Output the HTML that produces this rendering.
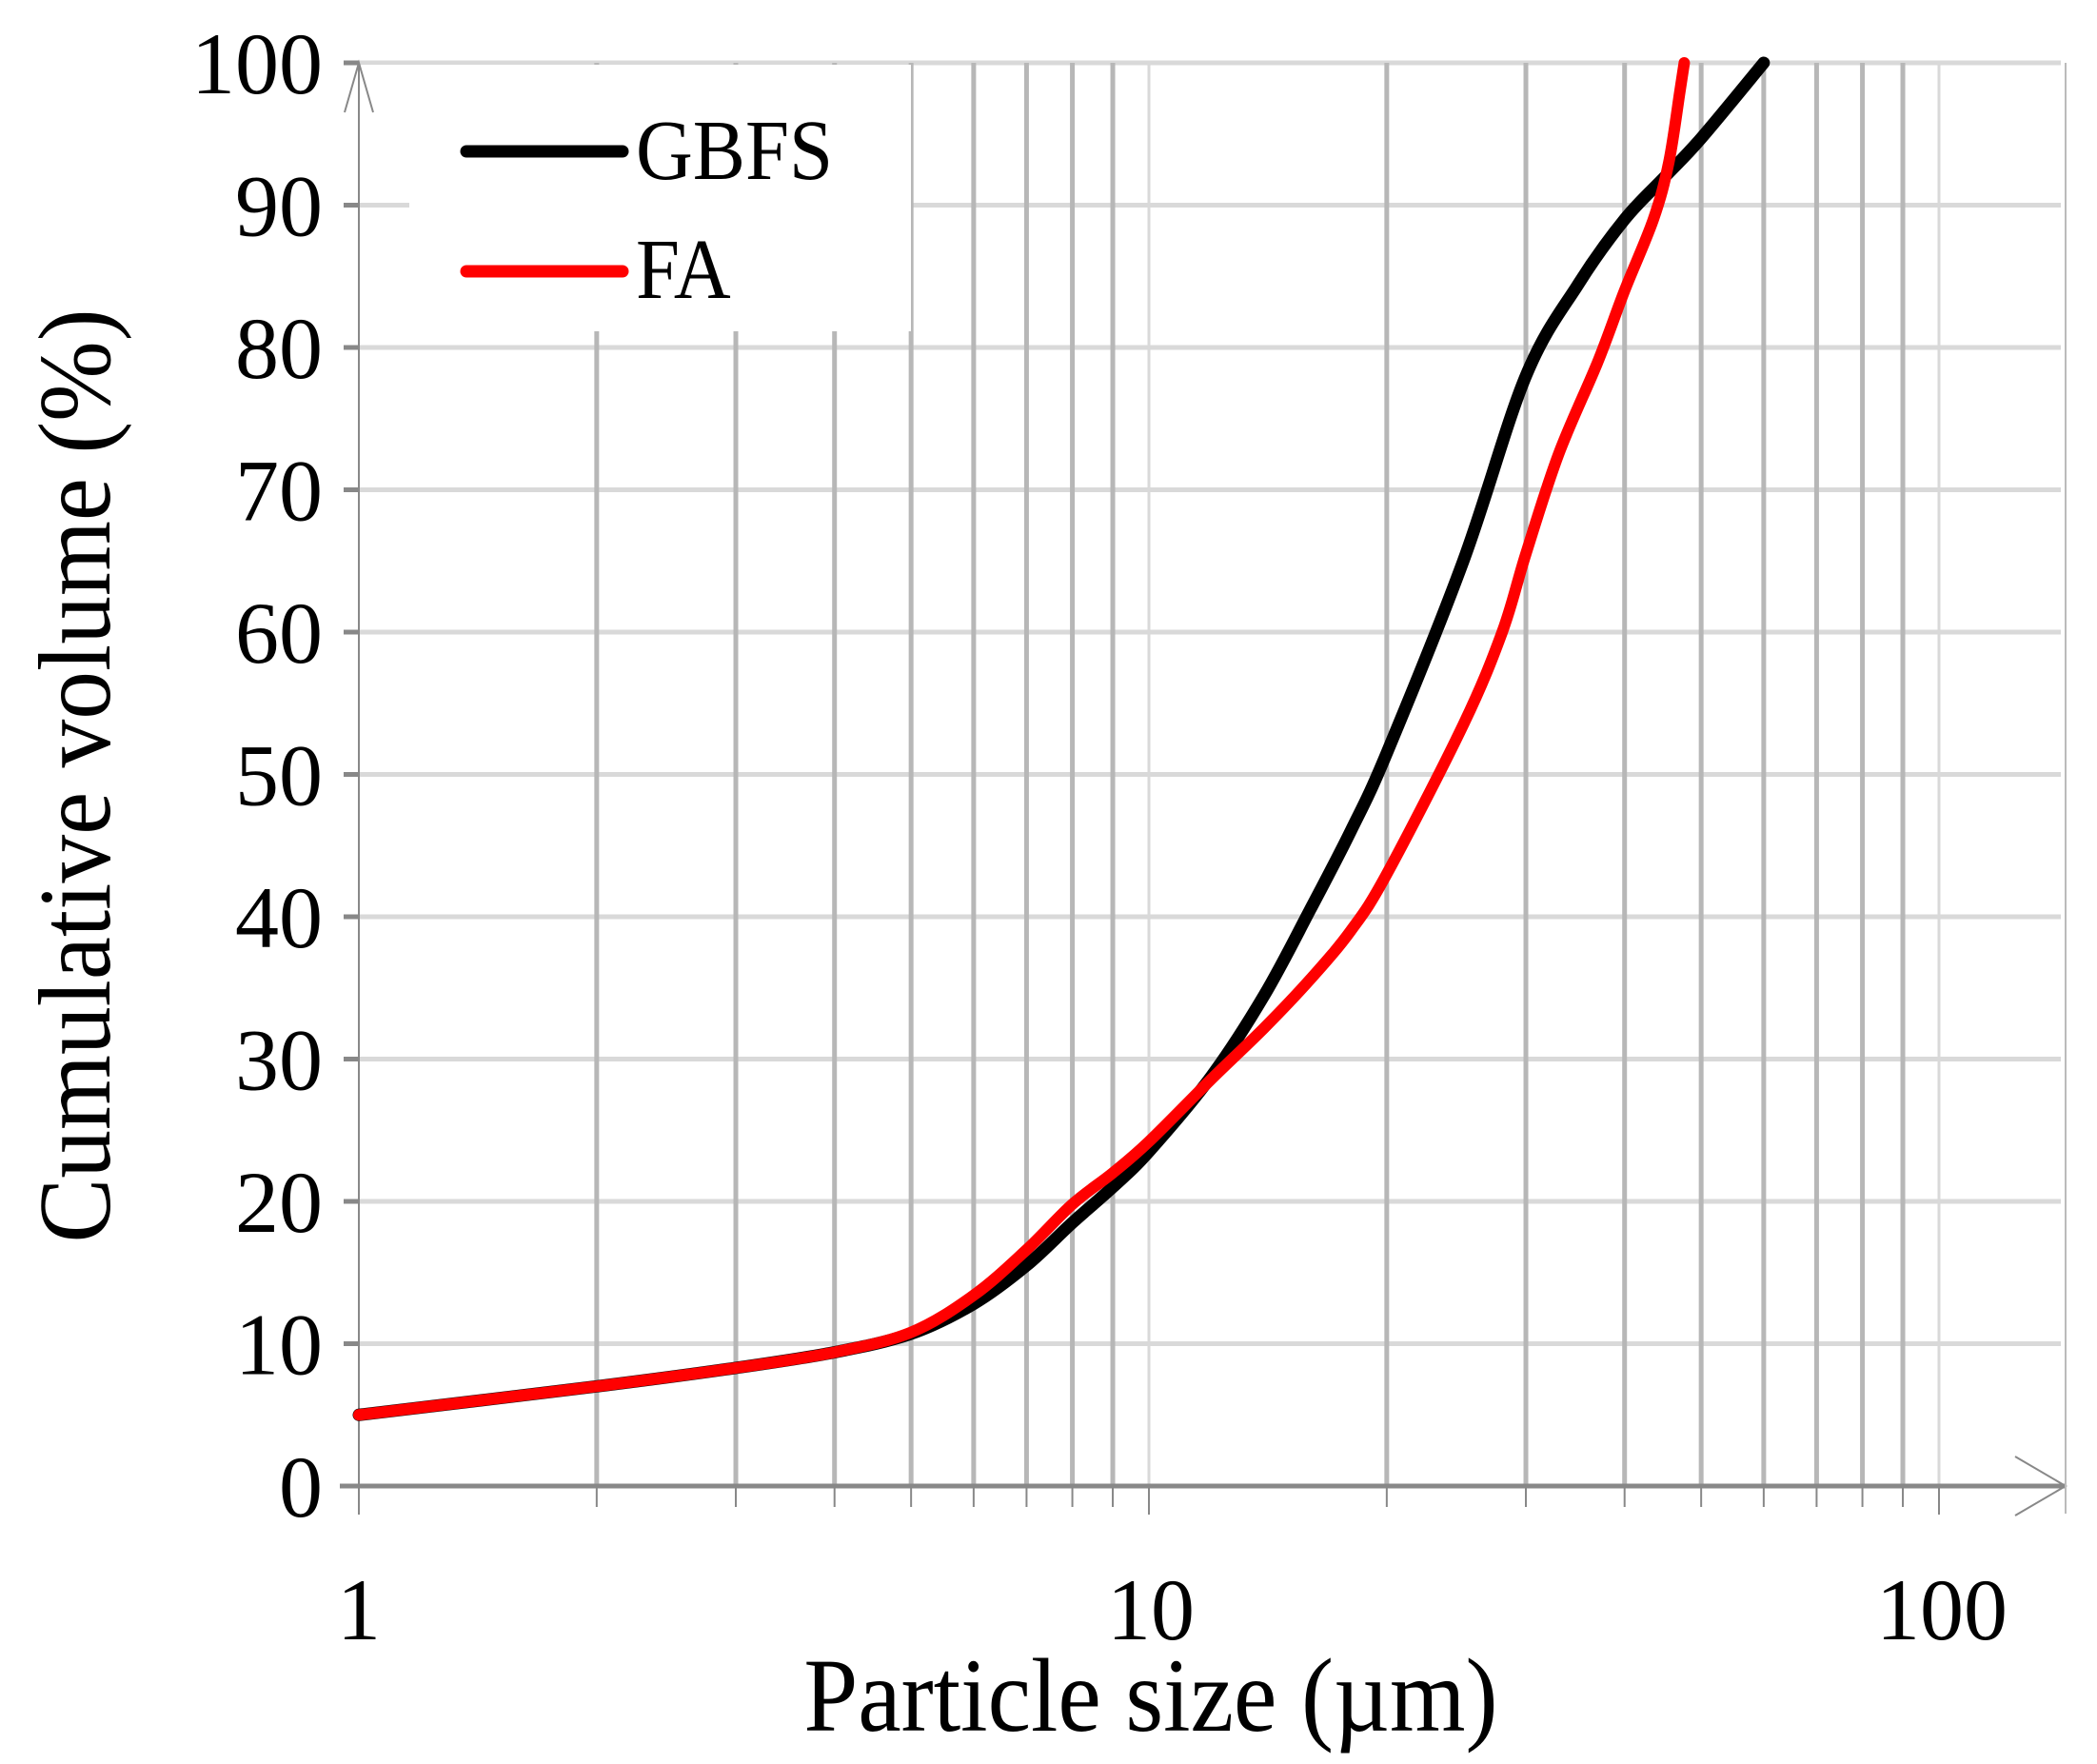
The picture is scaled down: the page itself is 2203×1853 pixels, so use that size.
<!DOCTYPE html>
<html><head><meta charset="utf-8"><style>
html,body{margin:0;padding:0;background:#fff;}
svg{display:block;}
text{font-family:"Liberation Serif",serif;fill:#000;}
</style></head><body>
<svg id="s" width="2203" height="1853" viewBox="0 0 2203 1853" xmlns="http://www.w3.org/2000/svg">
<g id="grid"></g>
<rect x="430" y="68" width="527" height="280" fill="#fff"/>
<rect x="379" y="68" width="60" height="140" fill="#fff"/>
<rect x="379" y="222" width="60" height="126" fill="#fff"/>
<g id="axes"></g>
<g id="curves" fill="none" stroke-linecap="round" stroke-linejoin="round"></g>
<line x1="490" y1="159" x2="654" y2="159" stroke="#000" stroke-width="13" stroke-linecap="round"/>
<line x1="490" y1="285" x2="654" y2="285" stroke="#f00" stroke-width="13" stroke-linecap="round"/>
<text x="668" y="188" font-size="90" transform="translate(668,0) scale(0.92,1) translate(-668,0)">GBFS</text>
<text x="668" y="313" font-size="90" transform="translate(668,0) scale(0.92,1) translate(-668,0)">FA</text>
<g id="labels" font-size="92"></g>
<text x="1209" y="1818" font-size="110" text-anchor="middle" transform="translate(1209,0) scale(0.93,1) translate(-1209,0)">Particle size (µm)</text>
<text transform="translate(115,815) rotate(-90) scale(0.94,1)" font-size="108" text-anchor="middle">Cumulative volume (%)</text>
</svg>
<script>
const NS="http://www.w3.org/2000/svg";
const X1=377,DEC=830,Y0=1561,Y100=66;
const px=v=>X1+Math.log10(v)*DEC, py=v=>Y0-(Y0-Y100)*v/100;
function el(p,t,a,txt){const e=document.createElementNS(NS,t);for(const k in a)e.setAttribute(k,a[k]);if(txt!==undefined)e.textContent=txt;p.appendChild(e);return e;}
const g=document.getElementById('grid'),ax=document.getElementById('axes'),lb=document.getElementById('labels');
for(let i=1;i<=10;i++){const y=py(i*10);el(g,'line',{x1:X1,x2:2165,y1:y,y2:y,stroke:'#d9d9d9','stroke-width':5});}
const xs=[2,3,4,5,6,7,8,9,10,20,30,40,50,60,70,80,90,100];
for(const v of xs){const x=px(v);el(g,'line',{x1:x,x2:x,y1:Y100,y2:Y0,stroke:(v==10||v==100)?'#d9d9d9':'#b7b7b7','stroke-width':(v==10||v==100)?3:5});
 el(ax,'line',{x1:x,x2:x,y1:Y0,y2:Y0+(v==10||v==100?30:22),stroke:'#888','stroke-width':2});}
el(ax,'line',{x1:X1,x2:X1,y1:Y100,y2:Y0+30,stroke:'#888','stroke-width':2});
el(ax,'polyline',{points:`${X1-15},118 ${X1},66 ${X1+15},118`,fill:'none',stroke:'#888','stroke-width':2});
el(ax,'line',{x1:X1-20,x2:2170,y1:Y0,y2:Y0,stroke:'#888','stroke-width':5});
el(ax,'polyline',{points:`2117,1530 2170,1561 2117,1592`,fill:'none',stroke:'#888','stroke-width':2});
el(ax,'line',{x1:2170,x2:2170,y1:Y100,y2:1590,stroke:'#bbb','stroke-width':2});
for(let i=0;i<=10;i++){const y=py(i*10);el(ax,'line',{x1:X1-16,x2:X1,y1:y,y2:y,stroke:'#888','stroke-width':5});
 el(lb,'text',{x:X1-38,y:y+32,'text-anchor':'end'},String(i*10));}
el(lb,'text',{x:377,y:1722,'text-anchor':'middle'},'1');
el(lb,'text',{x:1209,y:1722,'text-anchor':'middle'},'10');
el(lb,'text',{x:2040,y:1722,'text-anchor':'middle'},'100');
const G=[[1,5],[2,7],[3,8.3],[4,9.4],[5,10.7],[6,12.8],[7,15.5],[8,18.5],[9,21],[10,23.5],[12,28.8],[14,34.5],[16,40.5],[18,46],[20,51.5],[25,65],[30,78],[35,84.5],[40,89],[45,92],[50,94.7],[60,100]];
const F=[[1,5],[2,7],[3,8.3],[4,9.4],[5,10.8],[6,13.4],[7,16.6],[8,19.8],[9,22],[10,24.2],[12,28.6],[14,32.2],[16,35.6],[18,39],[20,43],[25,53.5],[28,60],[30,65.5],[33,72.5],[37,79],[40,84],[43.5,89],[45.5,93],[47,98],[47.6,100]];
function path(d){const p=d.map(([a,b])=>[px(a),py(b)]);let s=`M${p[0][0]},${p[0][1]}`;
 for(let i=0;i<p.length-1;i++){const p0=p[i-1]||p[i],p1=p[i],p2=p[i+1],p3=p[i+2]||p2;
 s+=` C${p1[0]+(p2[0]-p0[0])/6},${p1[1]+(p2[1]-p0[1])/6} ${p2[0]-(p3[0]-p1[0])/6},${p2[1]-(p3[1]-p1[1])/6} ${p2[0]},${p2[1]}`;}return s;}
const c=document.getElementById('curves');
el(c,'path',{d:path(G),stroke:'#000','stroke-width':13});
el(c,'path',{d:path(F),stroke:'#f00','stroke-width':12});
</script>
</body></html>
